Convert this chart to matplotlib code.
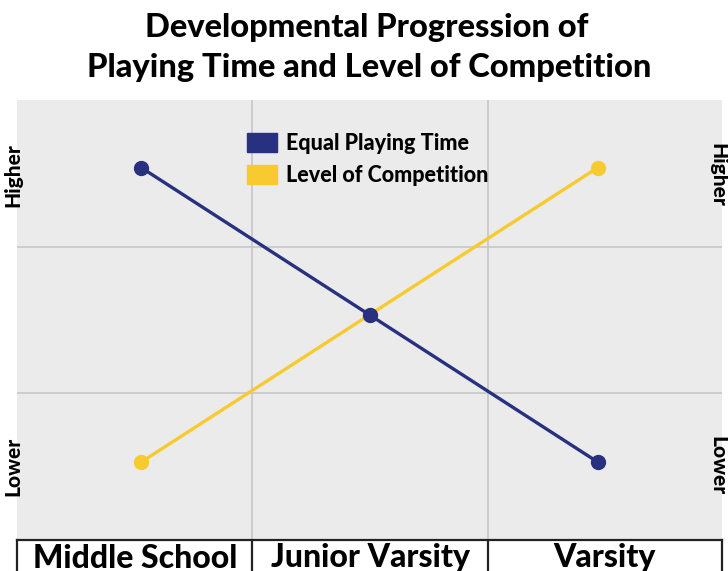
import matplotlib
matplotlib.use("Agg")
import matplotlib.pyplot as plt

plt.rcParams['font.family'] = ['Lato', 'DejaVu Sans']

categories = ["Middle School", "Junior Varsity", "Varsity"]
equal_playing_time = [3, 2, 1]
level_of_competition = [1, 2, 3]
series_names = ["Equal Playing Time", "Level of Competition"]
title_lines = ["Developmental Progression of", "Playing Time and Level of Competition"]

BLUE = "#283080"
YELLOW = "#F7CB2F"
BG = "#EBEBEB"
GRID = "#C6C6C6"
WEIGHT = 'black'

W, H = 728, 571
fig = plt.figure(figsize=(W / 100, H / 100), dpi=100)

def fx(px):
    return px / W

def fy(py):
    return 1 - py / H

ax_l, ax_r, ax_t, ax_b = 17, 722, 100, 540
ax = fig.add_axes([fx(ax_l), fy(ax_b), fx(ax_r) - fx(ax_l), fy(ax_t) - fy(ax_b)])
ax.set_facecolor(BG)
x = list(range(len(categories)))
xmin, xmax = -0.545, 2.545
ymin, ymax = 0.47, 3.46
ax.set_xlim(xmin, xmax)
ax.set_ylim(ymin, ymax)
xsep = [0.487, 1.518]
ysep = [ymin + (ymax - ymin) / 3, ymin + 2 * (ymax - ymin) / 3]
for v in xsep:
    ax.axvline(v, color=GRID, lw=1.2, zorder=1)
for h in ysep:
    ax.axhline(h, color=GRID, lw=1.2, zorder=1)

ax.plot(x, equal_playing_time, color=BLUE, lw=2.4, marker='o', ms=10, zorder=3,
        label=series_names[0])
ax.plot(x, level_of_competition, color=YELLOW, lw=2.4, marker='o', ms=10, zorder=2,
        label=series_names[1])
ax.set_xticks([])
ax.set_yticks([])
for s in ax.spines.values():
    s.set_visible(False)

# legend
leg = ax.legend(handles=[plt.Rectangle((0, 0), 1, 1, color=BLUE),
                         plt.Rectangle((0, 0), 1, 1, color=YELLOW)],
                labels=series_names, loc='upper left',
                bbox_to_anchor=((238 - ax_l) / (ax_r - ax_l), 1 - (124 - ax_t) / (ax_b - ax_t)),
                frameon=False, handlelength=1.4, handleheight=1.0, handletextpad=0.45,
                labelspacing=0.52, borderaxespad=0,
                prop={'weight': WEIGHT, 'size': 15.5})

# side labels
side_kw = dict(ha='center', va='center', fontsize=15, fontweight=WEIGHT)
fig.text(fx(13), fy(175), "Higher", rotation=90, **side_kw)
fig.text(fx(13), fy(466), "Lower", rotation=90, **side_kw)
fig.text(fx(718), fy(175), "Higher", rotation=270, **side_kw)
fig.text(fx(718), fy(466), "Lower", rotation=270, **side_kw)

# category boxes
bx = fig.add_axes([fx(ax_l), fy(590), fx(ax_r) - fx(ax_l), fy(540) - fy(590)])
bx.set_xlim(xmin, xmax)
bx.set_ylim(0, 1)
bx.set_facecolor('white')
bx.set_xticks([])
bx.set_yticks([])
for s in bx.spines.values():
    s.set_color('#222222')
    s.set_linewidth(1.6)
for v in xsep:
    bx.axvline(v, color='#222222', lw=1.6)
bounds = [xmin] + xsep + [xmax]
for i, c in enumerate(categories):
    cx = (bounds[i] + bounds[i + 1]) / 2
    bx.text(cx, 0.64, c, ha='center', va='center', fontsize=23, fontweight=WEIGHT)

# title
fig.text(fx(367), fy(28), title_lines[0], ha='center', va='center', fontsize=23.5, fontweight=WEIGHT)
fig.text(fx(369), fy(67), title_lines[1], ha='center', va='center', fontsize=23.5, fontweight=WEIGHT)

fig.savefig("out.png", dpi=100)
